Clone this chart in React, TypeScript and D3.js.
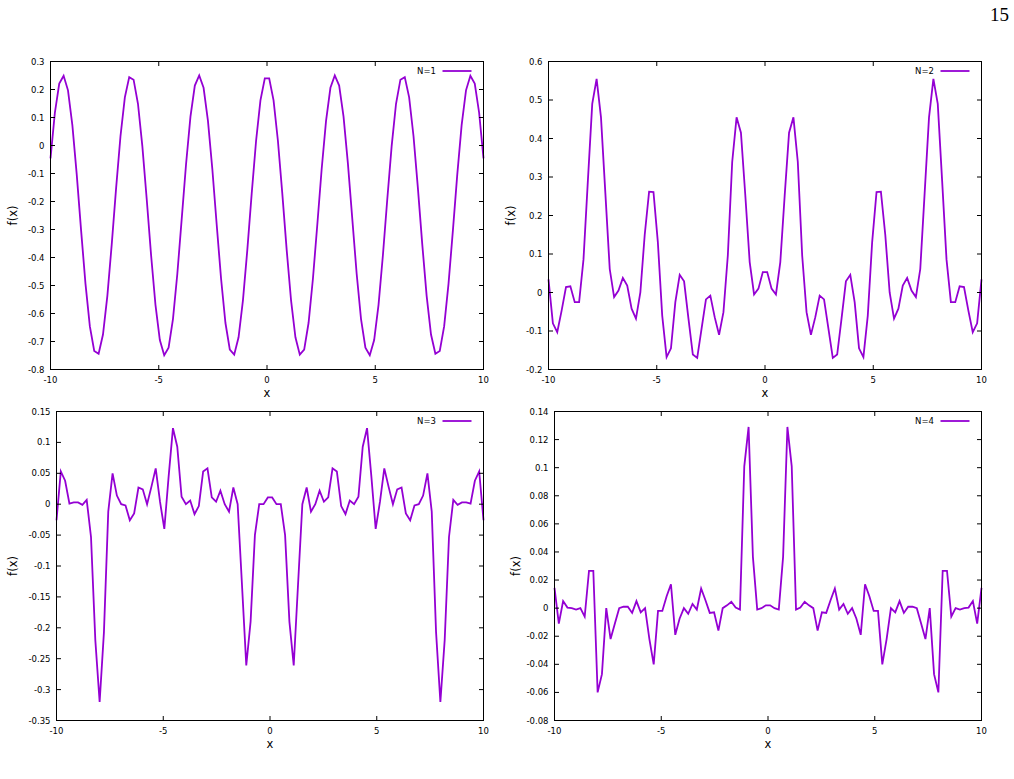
import React from "react";
import * as d3 from "d3";

// ---------- data ----------
const X_DOMAIN = [-10, 10];
const X_TICKS = [-10, -5, 0, 5, 10];
const SAMPLE_COUNT = 100;
const SERIES_NAMES = ["N=1", "N=2", "N=3", "N=4"];
const PAGE_NUMBER = "15";

const N1_VALUES = [
  -0.046, 0.117, 0.221, 0.249, 0.197, 0.073, -0.104, -0.304, -0.494, -0.646,
  -0.734, -0.744, -0.675, -0.537, -0.353, -0.152, 0.033, 0.172, 0.244, 0.235,
  0.149, -0.002, -0.192, -0.392, -0.569, -0.695, -0.749, -0.722, -0.62, -0.458,
  -0.262, -0.065, 0.103, 0.214, 0.25, 0.206, 0.088, -0.084, -0.283, -0.476,
  -0.634, -0.729, -0.747, -0.685, -0.553, -0.373, -0.172, 0.016, 0.161, 0.24,
  0.24, 0.161, 0.016, -0.172, -0.373, -0.553, -0.685, -0.747, -0.729, -0.634,
  -0.476, -0.283, -0.084, 0.088, 0.206, 0.25, 0.214, 0.103, -0.065, -0.262,
  -0.458, -0.62, -0.722, -0.749, -0.695, -0.569, -0.392, -0.192, -0.002, 0.149,
  0.235, 0.244, 0.172, 0.033, -0.152, -0.353, -0.537, -0.675, -0.744, -0.734,
  -0.646, -0.494, -0.304, -0.104, 0.073, 0.197, 0.249, 0.221, 0.117, -0.046,
];

const N2_VALUES = [
  0.034, -0.08, -0.103, -0.047, 0.014, 0.016, -0.025, -0.025, 0.086, 0.29,
  0.49, 0.555, 0.455, 0.258, 0.061, -0.012, 0.005, 0.038, 0.018, -0.042,
  -0.068, 0.0, 0.15, 0.262, 0.261, 0.131, -0.06, -0.168, -0.145, -0.025,
  0.046, 0.029, -0.068, -0.161, -0.17, -0.094, -0.018, -0.008, -0.064, -0.11,
  -0.051, 0.096, 0.339, 0.455, 0.415, 0.252, 0.079, -0.005, 0.01, 0.053,
  0.053, 0.01, -0.005, 0.079, 0.252, 0.415, 0.455, 0.339, 0.096, -0.051,
  -0.11, -0.064, -0.008, -0.018, -0.094, -0.17, -0.161, -0.068, 0.029, 0.046,
  -0.025, -0.145, -0.168, -0.06, 0.131, 0.261, 0.262, 0.15, 0.0, -0.068,
  -0.042, 0.018, 0.038, 0.005, -0.012, 0.061, 0.258, 0.455, 0.555, 0.49,
  0.29, 0.086, -0.025, -0.025, 0.016, 0.014, -0.047, -0.103, -0.08, 0.034,
];

const N3_VALUES = [
  -0.026, 0.053, 0.038, 0.001, 0.003, 0.003, -0.001, 0.007, -0.053, -0.22,
  -0.32, -0.207, -0.012, 0.05, 0.014, 0.0, -0.002, -0.026, -0.015, 0.027,
  0.024, 0.0, 0.028, 0.058, 0.004, -0.04, 0.045, 0.123, 0.093, 0.012,
  0.0, 0.006, -0.016, -0.003, 0.053, 0.058, 0.011, 0.004, 0.022, 0.0,
  -0.012, 0.027, 0.0, -0.13, -0.261, -0.19, -0.05, 0.0, 0.0, 0.011,
  0.011, 0.0, 0.0, -0.05, -0.19, -0.261, -0.13, 0.0, 0.027, -0.012,
  0.0, 0.022, 0.004, 0.011, 0.058, 0.053, -0.003, -0.016, 0.006, 0.0,
  0.012, 0.093, 0.123, 0.045, -0.04, 0.004, 0.058, 0.028, 0.0, 0.024,
  0.027, -0.015, -0.026, -0.002, 0.0, 0.014, 0.05, -0.012, -0.207, -0.32,
  -0.22, -0.053, 0.007, -0.001, 0.003, 0.003, 0.001, 0.038, 0.053, -0.026,
];

const N4_VALUES = [
  0.0144, -0.011, 0.005, 0.0004, 0.0, -0.001, 0.0, -0.006, 0.0266, 0.0266,
  -0.06, -0.047, 0.0, -0.022, -0.011, 0.0, 0.001, 0.001, -0.0034, 0.005,
  -0.003, 0.0, -0.022, -0.04, -0.002, -0.002, 0.0085, 0.017, -0.019, -0.0075,
  0.0, -0.004, 0.003, -0.001, 0.014, 0.0056, -0.0034, -0.003, -0.016, 0.0,
  0.002, 0.0045, 0.0004, -0.001, 0.101, 0.129, 0.0365, -0.001, 0.0, 0.002,
  0.002, 0.0, -0.001, 0.0365, 0.129, 0.101, -0.001, 0.0004, 0.0045, 0.002,
  0.0, -0.016, -0.003, -0.0034, 0.0056, 0.014, -0.001, 0.003, -0.004, 0.0,
  -0.0075, -0.019, 0.017, 0.0085, -0.002, -0.002, -0.04, -0.022, 0.0, -0.003,
  0.005, -0.0034, 0.001, 0.001, 0.0, -0.011, -0.022, 0.0, -0.047, -0.06,
  0.0266, 0.0266, -0.006, 0.0, -0.001, 0.0, 0.0004, 0.005, -0.011, 0.0144,
];

const Y_TICKS_1 = [-0.8, -0.7, -0.6, -0.5, -0.4, -0.3, -0.2, -0.1, 0, 0.1, 0.2, 0.3];
const Y_TICKS_2 = [-0.2, -0.1, 0, 0.1, 0.2, 0.3, 0.4, 0.5, 0.6];
const Y_TICKS_3 = [-0.35, -0.3, -0.25, -0.2, -0.15, -0.1, -0.05, 0, 0.05, 0.1, 0.15];
const Y_TICKS_4 = [-0.08, -0.06, -0.04, -0.02, 0, 0.02, 0.04, 0.06, 0.08, 0.1, 0.12, 0.14];

// ---------- styling ----------
const LINE_COLOR = "#9400d3";
const FONT = "'DejaVu Sans', 'Liberation Sans', Arial, sans-serif";
const TICK_FONT = 8.5;
const LABEL_FONT = 11.5;
const TICK_LEN = 4.5;

type PanelProps = {
  left: number;
  right: number;
  top: number;
  bottom: number;
  yTicks: number[];
  values: number[];
  name: string;
  ylabelX: number;
};

function Panel({ left, right, top, bottom, yTicks, values, name, ylabelX }: PanelProps) {
  const xs = d3.scaleLinear().domain(X_DOMAIN).range([left, right]);
  const ys = d3
    .scaleLinear()
    .domain([yTicks[0], yTicks[yTicks.length - 1]])
    .range([bottom, top]);
  const idxToX = d3.scaleLinear().domain([0, SAMPLE_COUNT - 1]).range(X_DOMAIN);
  const line = d3
    .line<number>()
    .x((_, i) => xs(idxToX(i)))
    .y((v) => ys(v));
  const legendY = top + 9.5;
  return (
    <g>
      <path d={line(values) || ""} fill="none" stroke={LINE_COLOR} strokeWidth={1.8} strokeLinejoin="miter" />
      <rect x={left} y={top} width={right - left} height={bottom - top} fill="none" stroke="#000" strokeWidth={1} />
      {X_TICKS.map((t) => (
        <g key={"x" + t}>
          <line x1={xs(t)} x2={xs(t)} y1={bottom} y2={bottom - TICK_LEN} stroke="#000" />
          <line x1={xs(t)} x2={xs(t)} y1={top} y2={top + TICK_LEN} stroke="#000" />
          <text x={xs(t)} y={bottom + 13.5} textAnchor="middle" fontSize={TICK_FONT} fontFamily={FONT} fill="#000">
            {String(t)}
          </text>
        </g>
      ))}
      {yTicks.map((t) => (
        <g key={"y" + t}>
          <line x1={left} x2={left + TICK_LEN} y1={ys(t)} y2={ys(t)} stroke="#000" />
          <line x1={right} x2={right - TICK_LEN} y1={ys(t)} y2={ys(t)} stroke="#000" />
          <text x={left - 6} y={ys(t) + 3} textAnchor="end" fontSize={TICK_FONT} fontFamily={FONT} fill="#000">
            {String(t)}
          </text>
        </g>
      ))}
      <text x={(left + right) / 2} y={bottom + 27.5} textAnchor="middle" fontSize={LABEL_FONT} fontFamily={FONT} fill="#000">
        x
      </text>
      <text
        transform={`translate(${ylabelX},${(top + bottom) / 2}) rotate(-90)`}
        textAnchor="middle"
        dominantBaseline="central"
        fontSize={LABEL_FONT}
        fontFamily={FONT}
        fill="#000"
      >
        f(x)
      </text>
      <text x={right - 47.5} y={legendY + 3} textAnchor="end" fontSize={TICK_FONT} fontFamily={FONT} fill="#000">
        {name}
      </text>
      <line x1={right - 41} x2={right - 12} y1={legendY} y2={legendY} stroke={LINE_COLOR} strokeWidth={1.8} />
    </g>
  );
}

export default function App() {
  return (
    <svg
      width={1014}
      height={779}
      style={{ position: "absolute", left: 0, top: 0, background: "#fff" }}
      xmlns="http://www.w3.org/2000/svg"
    >
      <rect x={0} y={0} width={1014} height={779} fill="#fff" />
      <text x={1009} y={20.5} textAnchor="end" fontSize={19} fontFamily="'Liberation Serif', 'DejaVu Serif', serif" fill="#000">
        {PAGE_NUMBER}
      </text>
      <Panel left={50.5} right={483.5} top={61.5} bottom={369.5} yTicks={Y_TICKS_1} values={N1_VALUES} name={SERIES_NAMES[0]} ylabelX={13} />
      <Panel left={548.5} right={981.5} top={61.5} bottom={369.5} yTicks={Y_TICKS_2} values={N2_VALUES} name={SERIES_NAMES[1]} ylabelX={511} />
      <Panel left={56.5} right={483.5} top={411.5} bottom={720.5} yTicks={Y_TICKS_3} values={N3_VALUES} name={SERIES_NAMES[2]} ylabelX={13} />
      <Panel left={554.5} right={981.5} top={411.5} bottom={720.5} yTicks={Y_TICKS_4} values={N4_VALUES} name={SERIES_NAMES[3]} ylabelX={516} />
    </svg>
  );
}
